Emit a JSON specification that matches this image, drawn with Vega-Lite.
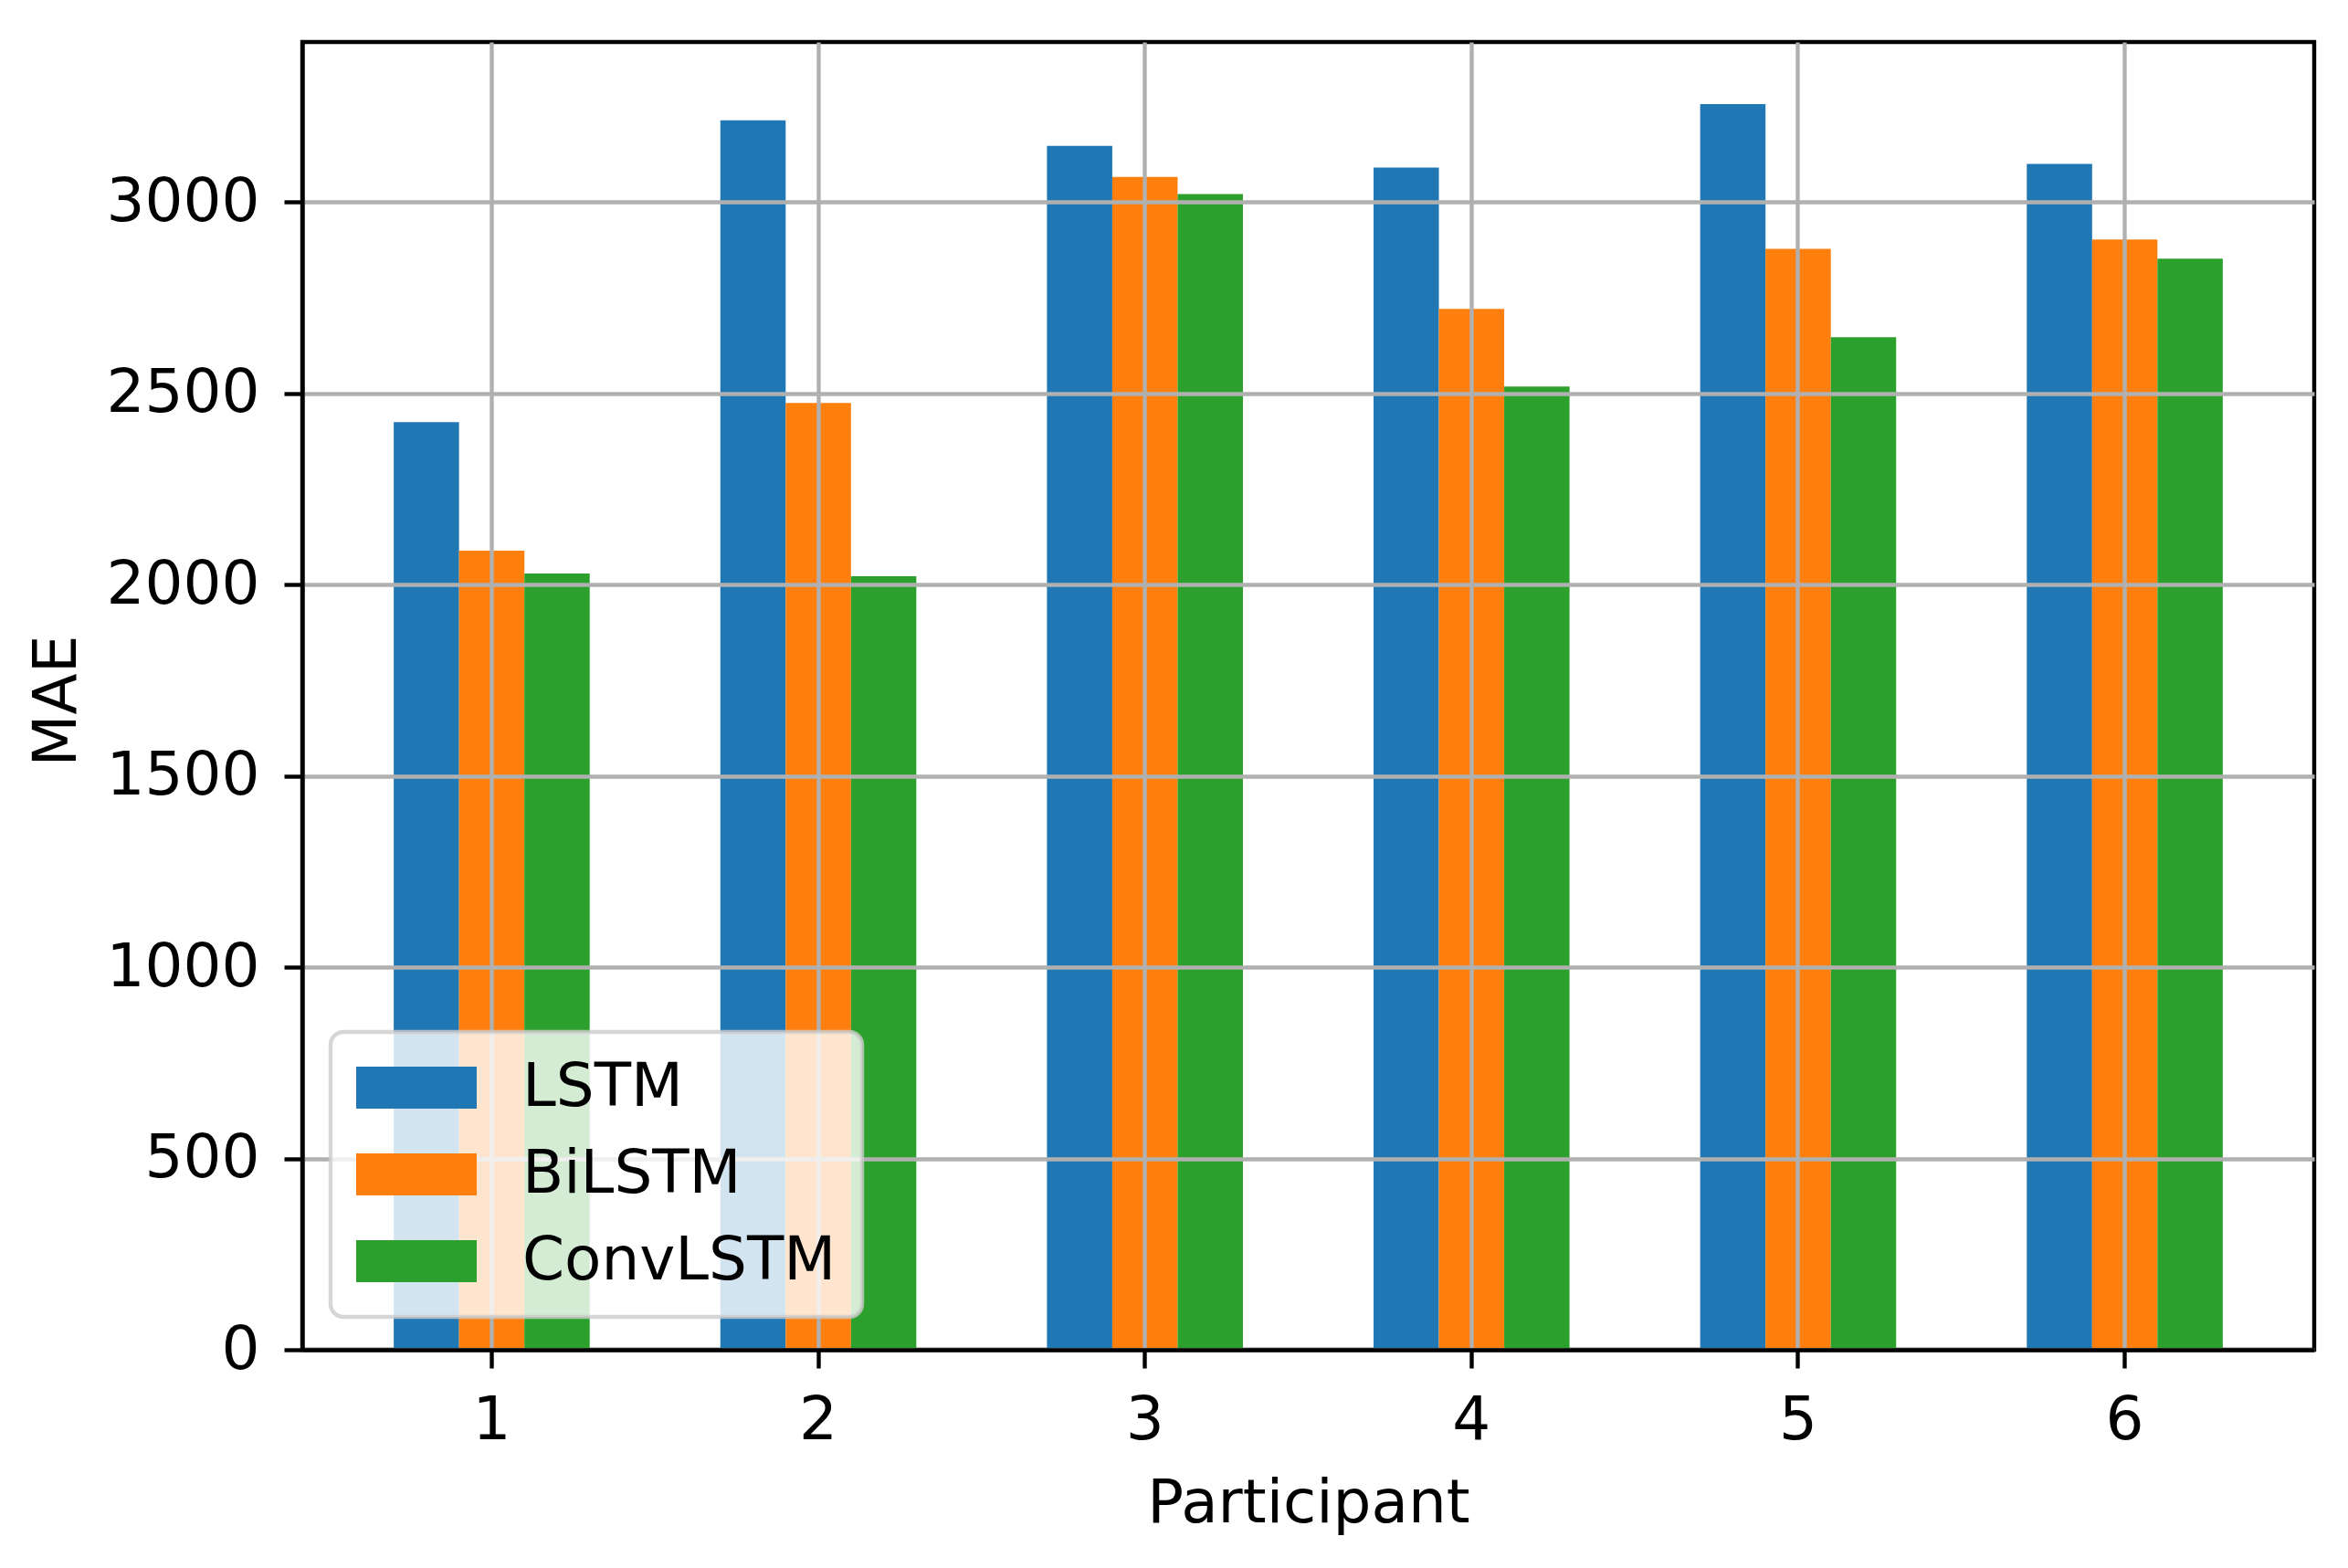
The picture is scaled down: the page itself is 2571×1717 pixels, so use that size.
{
  "$schema": "https://vega.github.io/schema/vega-lite/v6.json",
  "width": 2203,
  "height": 1432,
  "autosize": {"type": "none"},
  "padding": {"left": 331, "top": 46, "right": 37, "bottom": 239},
  "background": "white",
  "data": {
    "values": [
      {"participant": "1", "model": "LSTM", "mae": 2425},
      {"participant": "1", "model": "BiLSTM", "mae": 2089},
      {"participant": "1", "model": "ConvLSTM", "mae": 2029},
      {"participant": "2", "model": "LSTM", "mae": 3214},
      {"participant": "2", "model": "BiLSTM", "mae": 2475},
      {"participant": "2", "model": "ConvLSTM", "mae": 2022},
      {"participant": "3", "model": "LSTM", "mae": 3147},
      {"participant": "3", "model": "BiLSTM", "mae": 3066},
      {"participant": "3", "model": "ConvLSTM", "mae": 3021},
      {"participant": "4", "model": "LSTM", "mae": 3090},
      {"participant": "4", "model": "BiLSTM", "mae": 2721},
      {"participant": "4", "model": "ConvLSTM", "mae": 2518},
      {"participant": "5", "model": "LSTM", "mae": 3256},
      {"participant": "5", "model": "BiLSTM", "mae": 2878},
      {"participant": "5", "model": "ConvLSTM", "mae": 2647},
      {"participant": "6", "model": "LSTM", "mae": 3100},
      {"participant": "6", "model": "BiLSTM", "mae": 2902},
      {"participant": "6", "model": "ConvLSTM", "mae": 2852}
    ]
  },
  "mark": {"type": "bar"},
  "encoding": {
    "x": {
      "field": "participant",
      "type": "ordinal",
      "title": "Participant",
      "scale": {"paddingInner": 0.4, "paddingOuter": 0.28},
      "axis": {
        "labelAngle": 0,
        "bandPosition": 0.5,
        "grid": true,
        "labelPadding": 25,
        "titleBaseline": "alphabetic",
        "titleY": 188,
        "zindex": 1
      }
    },
    "xOffset": {
      "field": "model",
      "type": "nominal",
      "sort": ["LSTM", "BiLSTM", "ConvLSTM"],
      "scale": {"domain": ["LSTM", "BiLSTM", "ConvLSTM"], "paddingInner": 0, "paddingOuter": 0}
    },
    "y": {
      "field": "mae",
      "type": "quantitative",
      "title": "MAE",
      "scale": {"domain": [0, 3418.5], "nice": false, "zero": true},
      "axis": {
        "values": [0, 500, 1000, 1500, 2000, 2500, 3000],
        "format": "d",
        "labelLimit": 0,
        "grid": true,
        "labelPadding": 27,
        "titleBaseline": "alphabetic",
        "titleAlign": "center",
        "titleAngle": 270,
        "titleX": -249,
        "titleY": 721,
        "zindex": 1
      }
    },
    "color": {
      "field": "model",
      "type": "nominal",
      "sort": ["LSTM", "BiLSTM", "ConvLSTM"],
      "scale": {"domain": ["LSTM", "BiLSTM", "ConvLSTM"], "range": ["#1f77b4", "#ff7f0e", "#2ca02c"]},
      "legend": {
        "title": null,
        "orient": "none",
        "legendX": 31,
        "legendY": 1084,
        "symbolType": "M-2.87,-1H2.87V1H-2.87Z",
        "symbolSize": 2116,
        "symbolOffset": 33,
        "symbolStrokeWidth": 0,
        "symbolOpacity": 1,
        "labelFontSize": 66,
        "labelOffset": 83,
        "labelLimit": 0,
        "labelColor": "black",
        "rowPadding": 29,
        "padding": 28,
        "fillColor": "rgba(255,255,255,0.8)",
        "strokeColor": "rgba(204,204,204,0.8)",
        "cornerRadius": 14,
        "zindex": 2,
        "encode": {
          "legend": {"update": {"strokeWidth": {"value": 4.4}}}
        }
      }
    }
  },
  "config": {
    "font": "DejaVu Sans",
    "view": {"stroke": "black", "strokeWidth": 4.4},
    "axis": {
      "domainColor": "black",
      "domainWidth": 4.4,
      "tickColor": "black",
      "tickWidth": 4.4,
      "tickSize": 20,
      "gridColor": "#b0b0b0",
      "gridWidth": 4.4,
      "gridOpacity": 1,
      "labelFontSize": 66,
      "labelColor": "black",
      "titleFontSize": 66,
      "titleFontWeight": "normal",
      "titleColor": "black"
    }
  }
}
